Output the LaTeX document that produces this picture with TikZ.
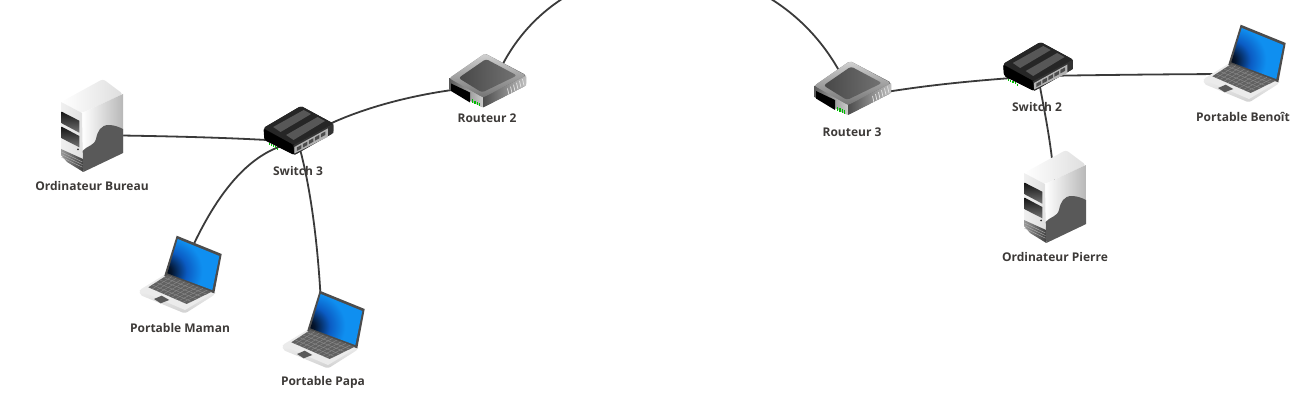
\documentclass[tikz,border=0pt]{standalone}
\usepackage{fontspec}
\setmainfont{Open Sans}
\definecolor{linkc}{HTML}{3A3A3A}
\definecolor{labelc}{HTML}{3D3A38}
\definecolor{scrA}{HTML}{0F8FF0}
\definecolor{scrB}{HTML}{0B5CC4}
\definecolor{scrC}{HTML}{04152E}
\pgfdeclareradialshading{scrshade}{\pgfpoint{-31bp}{-8bp}}{
  color(0bp)=(black);color(8bp)=(scrC);color(20bp)=(scrB);
  color(32bp)=(scrA);color(48bp)=(scrA);color(68bp)=(scrB);color(130bp)=(scrB!75!black)}
\usetikzlibrary{calc}
\tikzset{
  linkline/.style={draw=linkc,line width=1.35pt},
  devlabel/.style={font=\bfseries\fontsize{9pt}{10pt}\selectfont,text=labelc,inner sep=0pt,anchor=center},
  pics/netserver/.style={code={
    \shade[left color=white,right color=black!13,rounded corners=2pt] (0,23) -- (42,0) -- (62,15) -- (21,34) -- cycle;
    \shade[left color=white,right color=black!28] (21,34) -- (62,15) -- (62,74) -- (22,93) -- cycle;
    \shade[left color=black!6,right color=black!12] (0,23) -- (21,34) -- (22,93) -- (0,76) -- cycle;
    \shade[left color=black!40,right color=black!75] (0,70) -- (22,80) -- (22.3,93) -- (6,83) -- (0,76) -- cycle;
    \foreach \d in {0,2.6,5.2}{\draw[black!30,line width=.3pt] (0.5,73+\d) -- (21.5,83+\d);}
    \shade[top color=black!92,bottom color=black!55] (0.7,32.7) -- (18.3,41.7) -- (18.3,53.7) -- (0.7,44.3) -- cycle;
    \shade[top color=black!92,bottom color=black!55] (0.7,47.7) -- (18.3,57) -- (18.3,68.3) -- (0.7,59.3) -- cycle;
    \fill[black!80] (17,70.5) circle (1);
    \fill[black!65] (21.7,72) .. controls (27,66) and (33,67) .. (35,60)
       .. controls (36.5,52) and (40,46) .. (47.7,46) .. controls (53,46) and (58,48) .. (62,50)
       -- (62,74) -- (22.3,93) -- cycle;
  }},
  pics/netswitch/.style={code={
    \fill[black!92,rounded corners=1.5pt] (8.5,33) -- (49,11) -- (84,28.5) -- (84,38) -- (42,60) -- (9.5,45) -- cycle;
    \fill[black!85,rounded corners=1.5pt] (8.5,33) -- (49,11) -- (84,28.5) -- (41,50) -- cycle;
    \fill[black!66] (19,32) -- (52,15) -- (60,19) -- (27,37) -- cycle;
    \fill[black!66] (33,40) -- (67,22) -- (75,26) -- (41,45) -- cycle;
    \fill[black,rounded corners=1.5pt] (9,34) -- (41,50) -- (42,60) -- (9.5,45) -- cycle;
    \fill[black!80] (41,50) -- (84,28.5) -- (84,38) -- (42,60) -- cycle;
    \fill[black!30] (42,52) -- (78,33.5) -- (78,42) -- (42,58.5) -- cycle;
    \foreach \i in {0,1,2,3,4}{
      \fill[black!70] (44.5+6.5*\i,52.5-3.4*\i) -- (49.5+6.5*\i,50-3.4*\i) -- (49.5+6.5*\i,53.5-3.4*\i) -- (44.5+6.5*\i,56-3.4*\i) -- cycle;}
    \foreach \i in {0,1,2,3,4}{
      \fill[green!75!black] (14+2.3*\i,47.8+1.2*\i) rectangle +(1.2,2);}
  }},
  pics/netrouter/.style={code={
    \shade[left color=black!45,right color=black!65,rounded corners=1.5pt] (9.3,30.7) -- (9.3,42) -- (43,60) -- (86,38) -- (86,27.5) -- (45,6) -- cycle;
    \shade[left color=black!65,right color=black!20] (9.3,30.7) -- (9.3,42) -- (43,60) -- (43,50) -- cycle;
    \shade[left color=black!70,right color=black!25] (43,50) -- (86,28) -- (86,38) -- (43,60) -- cycle;
    \shade[top color=black!18,bottom color=black!55,rounded corners=2pt] (9.3,30.7) -- (45,6) -- (86,28) -- (43,50) -- cycle;
    \shade[left color=black!72,right color=black!55,rounded corners=2pt] (18.5,30.5) -- (46,11.5) -- (77,28) -- (42,45) -- cycle;
    \fill[black] (11,36) -- (30,45) -- (30,55) -- (11,43.5) -- cycle;
    \foreach \i in {0,1,2,3}{\fill[green!75!black] (32+2.3*\i,52+1.1*\i) rectangle +(1.2,3.6);}
    \foreach \i in {0,...,5}{\draw[black!10,line width=.55pt] (67.5+3*\i,41-1.9*\i) -- (69+3*\i,47.5-1.9*\i);}
  }},
  pics/netlaptop/.style={code={
    \shade[top color=white,bottom color=black!18,rounded corners=1.5pt] (9.5,60) -- (34,45) -- (85,62) -- (85,64.5) -- (55,83.5) -- (10,65) -- cycle;
    \fill[black!8] (9.5,60.5) -- (34,45) -- (85,62) -- (55,80) -- cycle;
    \fill[black!70] (46.7,5.7) -- (91.7,24) -- (84.3,63.3) -- (34.3,45.7) -- cycle;
    \shade[shading=scrshade] (47.7,9) -- (89.3,26) -- (82.3,60) -- (37.3,43.3) -- cycle;
    \fill[black!62] (18.3,57.3) -- (37.3,45) -- (81.7,61.7) -- (56.7,74) -- cycle;
    \foreach \t in {.2,.4,.6,.8}{\draw[black!45,line width=.3pt] ($(18.3,57.3)!\t!(37.3,45)$) -- ($(56.7,74)!\t!(81.7,61.7)$);}
    \foreach \t in {.1,.2,...,.95}{\draw[black!45,line width=.3pt] ($(18.3,57.3)!\t!(56.7,74)$) -- ($(37.3,45)!\t!(81.7,61.7)$);}
    \fill[black!65] (24,69) -- (31.7,65.7) -- (39.3,70) -- (30.7,73.3) -- cycle;
  }},
}
\begin{document}
\begin{tikzpicture}[x=0.75pt,y=-0.75pt]
\useasboundingbox (0,0) rectangle (1299,409);
\clip (0,0) rectangle (1299,409);
\coordinate (bureau) at (92,135);
\coordinate (sw3) at (298,142);
\coordinate (maman) at (180,275);
\coordinate (papa) at (322,330);
\coordinate (r2) at (493,86);
\coordinate (r3) at (852,98);
\coordinate (sw2) at (1038,76);
\coordinate (benoit) at (1245,74);
\coordinate (pierre) at (1055,196);
\draw[linkline] (bureau) .. controls (150,136) and (230,137) .. (sw3);
\draw[linkline] (sw3) .. controls (340,112) and (420,90) .. (r2);
\draw[linkline] (sw3) .. controls (240,150) and (205,215) .. (maman);
\draw[linkline] (sw3) .. controls (312,190) and (320,260) .. (papa);
\draw[linkline] (r2) .. controls (552,-72) and (785,-72) .. (r3);
\draw[linkline] (r3) .. controls (925,84) and (985,80) .. (sw2);
\draw[linkline] (sw2) .. controls (1100,75) and (1180,74) .. (benoit);
\draw[linkline] (sw2) .. controls (1045,115) and (1053,150) .. (pierre);
\pic at (61,79) {netserver};
\pic at (1024,150) {netserver};
\pic[xscale=.925] at (255.6,95) {netswitch};
\pic[xscale=.925] at (995.2,31) {netswitch};
\pic at (440,47.5) {netrouter};
\pic at (805,55) {netrouter};
\pic at (130,230) {netlaptop};
\pic at (273,285) {netlaptop};
\pic at (1194,19) {netlaptop};
\node[devlabel] (lbureau) at (92,186) {Ordinateur Bureau};
\node[devlabel] (lsw3) at (298,171) {Switch 3};
\node[devlabel] (lr2) at (487,118) {Routeur 2};
\node[devlabel] (lmaman) at (180,328) {Portable Maman};
\node[devlabel] (lpapa) at (323,382) {Portable Papa};
\node[devlabel] (lr3) at (852,132) {Routeur 3};
\node[devlabel] (lsw2) at (1037,107) {Switch 2};
\node[devlabel] (lbenoit) at (1243,117) {Portable Benoît};
\node[devlabel] (lpierre) at (1055,257) {Ordinateur Pierre};
\end{tikzpicture}
\end{document}
